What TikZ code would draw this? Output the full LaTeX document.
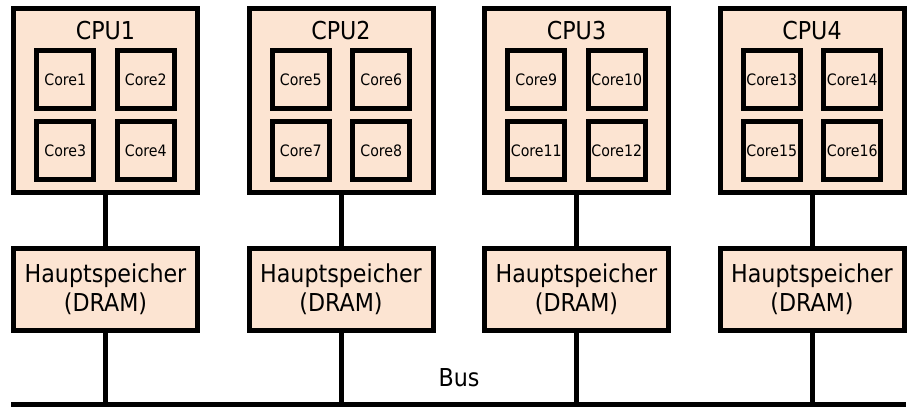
\documentclass[tikz,border=0pt]{standalone}
\usepackage{fontspec}
\setmainfont{DejaVu Sans Condensed}
\usepackage{xcolor}
\usetikzlibrary{positioning}

\definecolor{chipfill}{HTML}{FCE4D2}

\tikzset{
	box/.style = {draw, line width = 3.75pt, fill = chipfill, inner sep = 0pt},
	cpubox/.style = {box, minimum width = 138pt, minimum height = 138pt},
	corebox/.style = {box, minimum width = 43pt, minimum height = 43pt, font = \fontsize{11.8}{13}\selectfont},
	drambox/.style = {box, minimum width = 138pt, minimum height = 61.5pt, align = center, font = \fontsize{18.5}{21.5}\selectfont},
	biglabel/.style = {font = \fontsize{18.5}{21}\selectfont},
	wire/.style = {line width = 3.75pt}
}

\begin{document}
\begin{tikzpicture}[x = 0.75pt, y = -0.75pt]
	\def\dx{235.5};
	
	\useasboundingbox (0,0) rectangle (910,407);
	
	% bus along the bottom
	\coordinate (busl) at (11,404);
	\coordinate (busr) at (906,404);
	\draw[wire] (busl) -- (busr);
	\node[biglabel] (buslabel) at (459,378) {Bus};
	
	% one processor with four cores and its memory per column
	\foreach \i in {1,...,4} {
		\pgfmathsetmacro\cx{105.5 + (\i - 1)*\dx}
		
		\node[cpubox] (cpu\i) at (\cx,100.5) {};
		\node[biglabel] (cpulabel\i) at (\cx,30.5) {CPU\i};
		
		\foreach \k/\ox/\oy in {1/-40.25/79.5, 2/40.25/79.5, 3/-40.25/150.5, 4/40.25/150.5} {
			\pgfmathtruncatemacro\n{4*(\i - 1) + \k}
			\node[corebox] (core\n) at ({\cx + \ox},\oy) {Core\n};
		}
		
		\node[drambox] (dram\i) at (\cx,289.5) {Hauptspeicher\\(DRAM)};
		
		\draw[wire] (cpu\i) -- (dram\i);
		\draw[wire] (dram\i) -- (dram\i |- busl);
	}
\end{tikzpicture}
\end{document}
